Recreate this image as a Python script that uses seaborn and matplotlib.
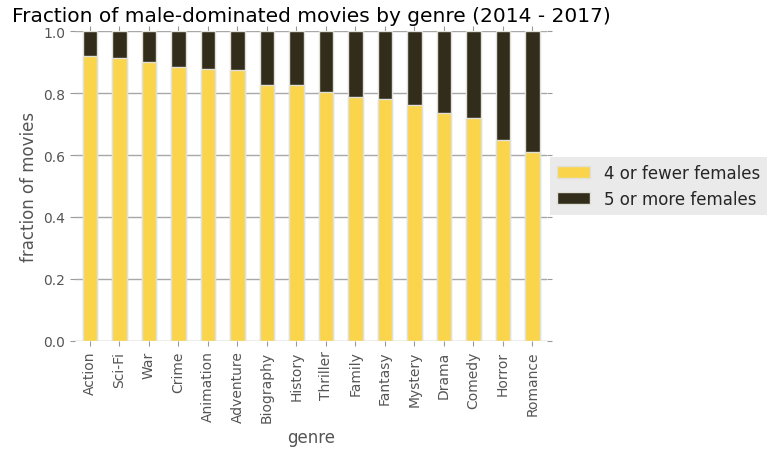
import pandas as pd
import matplotlib
matplotlib.use('Agg')
import matplotlib.pyplot as plt
import seaborn as sns
from matplotlib.patches import Patch

genres = ['Action', 'Sci-Fi', 'War', 'Crime', 'Animation', 'Adventure', 'Biography',
          'History', 'Thriller', 'Family', 'Fantasy', 'Mystery', 'Drama', 'Comedy',
          'Horror', 'Romance']
few_females = [0.919, 0.913, 0.900, 0.884, 0.877, 0.874, 0.826, 0.826, 0.803,
               0.787, 0.781, 0.761, 0.735, 0.719, 0.648, 0.610]
many_females = [round(1 - v, 3) for v in few_females]

yellow = '#FAD54C'
dark = '#322C1A'

df = pd.DataFrame({'genre': genres, 'few': few_females, 'many': many_females})
df['total'] = df['few'] + df['many']

sns.set_style('white')
plt.rcParams['font.family'] = ['DejaVu Sans']

fig, ax = plt.subplots(figsize=(7.75, 4.6), dpi=100)
fig.subplots_adjust(left=0.097, right=0.706, top=0.930, bottom=0.257)

# stacked: dark covers full height, yellow drawn over the lower part
sns.barplot(data=df, x='genre', y='total', color=dark, width=0.5, saturation=1,
            edgecolor='#e0e0d8', linewidth=1, ax=ax)
sns.barplot(data=df, x='genre', y='few', color=yellow, width=0.5, saturation=1,
            edgecolor='#e0e0d8', linewidth=1, ax=ax)

ax.set_ylim(0, 1.0)
ax.set_xlim(-0.5, len(genres) - 0.5)
ax.set_yticks([0.0, 0.2, 0.4, 0.6, 0.8, 1.0])
ax.yaxis.grid(True, color='#a8a8a8', linewidth=1)
ax.set_axisbelow(True)
for s in ax.spines.values():
    s.set_visible(False)

ax.tick_params(axis='x', which='both', bottom=True, top=True, direction='out',
               length=3.5, width=0.8, color='#999999', labelsize=10,
               labelcolor='#555555', labelrotation=90)
ax.tick_params(axis='y', which='both', left=True, right=True, direction='out',
               length=3.5, width=0.8, color='#999999', labelsize=10,
               labelcolor='#555555')

ax.set_xlabel('genre', fontsize=12, color='#555555')
ax.set_ylabel('fraction of movies', fontsize=12, color='#555555')
ax.set_title('Fraction of male-dominated movies by genre (2014 - 2017)',
             fontsize=14.5, color='black', pad=7)

handles = [Patch(facecolor=yellow, edgecolor='#e0e0d8', label='4 or fewer females'),
           Patch(facecolor=dark, edgecolor='#e0e0d8', label='5 or more females')]
leg = ax.legend(handles=handles, loc='center left', bbox_to_anchor=(1.0, 0.5),
                fontsize=12, frameon=True, fancybox=False, handlelength=2.0,
                borderaxespad=0.2)
leg.get_frame().set_facecolor('#e5e5e5')
leg.get_frame().set_edgecolor('none')

fig.savefig('out.png', dpi=100)
